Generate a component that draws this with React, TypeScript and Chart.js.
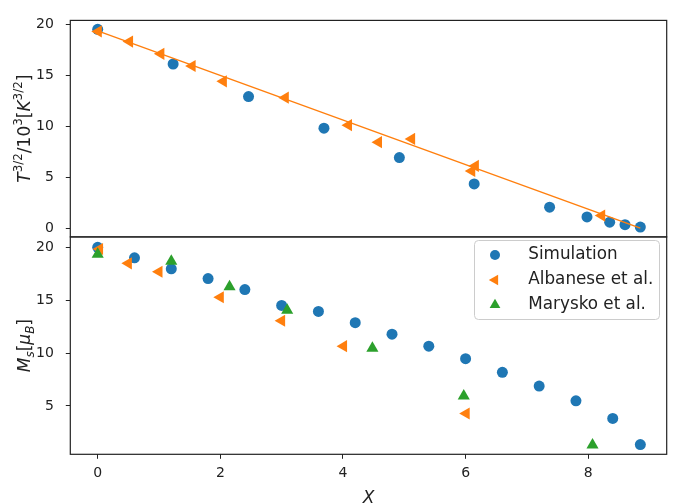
import React, { useEffect, useRef } from 'react';
import { Chart, registerables } from 'chart.js';

Chart.register(...registerables);

// ---------- data ----------
const X_TICKS = [0, 2, 4, 6, 8];
const TOP_Y_TICKS = [0, 5, 10, 15, 20];
const BOT_Y_TICKS = [5, 10, 15, 20];

const X_MIN = -0.447;
const X_MAX = 9.28;
const TOP_Y_MIN = -0.87;
const TOP_Y_MAX = 20.38;
const BOT_Y_MIN = 0.43;
const BOT_Y_MAX = 20.98;

// top panel
const TOP_SIM_X = [0, 1.23, 2.46, 3.69, 4.92, 6.14, 7.37, 7.98, 8.35, 8.6, 8.85];
const TOP_SIM_Y = [19.5, 16.1, 12.9, 9.8, 6.92, 4.33, 2.05, 1.09, 0.58, 0.33, 0.1];
const TOP_ALB_X = [0.01, 0.52, 1.03, 1.54, 2.05, 3.06, 4.09, 4.58, 5.12, 6.1, 6.16, 8.22];
const TOP_ALB_Y = [19.3, 18.3, 17.1, 15.9, 14.4, 12.8, 10.1, 8.43, 8.75, 5.6, 6.1, 1.22];
const FIT_X = [0, 8.85];
const FIT_Y = [19.35, 0];

// bottom panel
const BOT_SIM_X = [0, 0.6, 1.2, 1.8, 2.4, 3.0, 3.6, 4.2, 4.8, 5.4, 6.0, 6.6, 7.2, 7.8, 8.4, 8.85];
const BOT_SIM_Y = [20.0, 19.0, 17.96, 17.04, 16.0, 14.5, 13.94, 12.87, 11.79, 10.65, 9.47, 8.18, 6.88, 5.49, 3.82, 1.35];
const BOT_ALB_X = [0.03, 0.5, 1.0, 2.0, 3.0, 4.01, 6.01];
const BOT_ALB_Y = [19.84, 18.48, 17.69, 15.28, 13.06, 10.65, 4.29];
const BOT_MAR_X = [0, 1.2, 2.15, 3.09, 4.48, 5.97, 8.07];
const BOT_MAR_Y = [19.35, 18.67, 16.26, 14.04, 10.46, 5.93, 1.3];

const LEGEND_LABELS = ['Simulation', 'Albanese et al.', 'Marysko et al.'];
const X_TITLE = 'X';

// ---------- styles ----------
const FONT = '"DejaVu Sans", sans-serif';
const BLUE = '#1f77b4';
const ORANGE = '#ff7f0e';
const GREEN = '#2ca02c';
const INK = '#222222';
const W = 685;
const H = 504;
const CIRCLE_R = 5.5;
const TRI_R = 7;

type Seg = { t: string; it?: boolean; s?: number; dy?: number };

const pts = (xs: number[], ys: number[]) => xs.map((x, i) => ({ x, y: ys[i] }));

function drawRich(ctx: CanvasRenderingContext2D, segs: Seg[], x: number, y: number, size: number, rotate: boolean) {
  ctx.save();
  ctx.translate(x, y);
  if (rotate) ctx.rotate(-Math.PI / 2);
  const fontOf = (s: Seg) => `${s.it ? 'italic ' : ''}${(s.s ?? 1) * size}px ${FONT}`;
  let total = 0;
  const ws = segs.map((s) => {
    ctx.font = fontOf(s);
    const w = ctx.measureText(s.t).width;
    total += w;
    return w;
  });
  let cx = -total / 2;
  ctx.fillStyle = INK;
  ctx.textBaseline = 'alphabetic';
  ctx.textAlign = 'left';
  segs.forEach((s, i) => {
    ctx.font = fontOf(s);
    ctx.fillText(s.t, cx, (s.dy ?? 0) * size);
    cx += ws[i];
  });
  ctx.restore();
}

function marker(ctx: CanvasRenderingContext2D, kind: string, x: number, y: number, r: number, color: string) {
  ctx.save();
  ctx.fillStyle = color;
  ctx.beginPath();
  if (kind === 'circle') {
    ctx.arc(x, y, r, 0, Math.PI * 2);
  } else {
    const rot = kind === 'left' ? -Math.PI / 2 : 0;
    for (let k = 0; k < 3; k++) {
      const a = rot + (k * 2 * Math.PI) / 3;
      const px = x + Math.sin(a) * r;
      const py = y - Math.cos(a) * r;
      if (k === 0) ctx.moveTo(px, py);
      else ctx.lineTo(px, py);
    }
    ctx.closePath();
  }
  ctx.fill();
  ctx.restore();
}

const decorPlugin = {
  id: 'decor',
  afterDraw(chart: any) {
    const ctx: CanvasRenderingContext2D = chart.ctx;
    const a = chart.chartArea;
    const yt = chart.scales.yTop;
    const yb = chart.scales.yBot;
    // spines
    ctx.save();
    ctx.strokeStyle = INK;
    ctx.lineWidth = 1.2;
    ctx.strokeRect(a.left, yt.top, a.right - a.left, yt.bottom - yt.top);
    ctx.strokeRect(a.left, yb.top, a.right - a.left, yb.bottom - yb.top);
    ctx.restore();

    // y titles
    drawRich(
      ctx,
      [
        { t: 'T', it: true },
        { t: '3/2', s: 0.7, dy: -0.45 },
        { t: '/10' },
        { t: '3', s: 0.7, dy: -0.45 },
        { t: '[' },
        { t: 'K', it: true },
        { t: '3/2', s: 0.7, dy: -0.45 },
        { t: ']' },
      ],
      30,
      (yt.top + yt.bottom) / 2,
      17,
      true
    );
    drawRich(
      ctx,
      [
        { t: 'M', it: true },
        { t: 's', it: true, s: 0.7, dy: 0.22 },
        { t: '[' },
        { t: 'μ', it: true },
        { t: 'B', it: true, s: 0.7, dy: 0.22 },
        { t: ']' },
      ],
      30,
      (yb.top + yb.bottom) / 2,
      17,
      true
    );
    // x title
    drawRich(ctx, [{ t: X_TITLE, it: true }], (a.left + a.right) / 2, 502.5, 17, false);

    // legend
    ctx.save();
    const lx = 474.5, ly = 240.5, lw = 185, lh = 79;
    ctx.beginPath();
    (ctx as any).roundRect(lx, ly, lw, lh, 4);
    ctx.fillStyle = 'rgba(255,255,255,0.8)';
    ctx.fill();
    ctx.strokeStyle = '#cccccc';
    ctx.lineWidth = 1;
    ctx.stroke();
    const kinds = ['circle', 'left', 'up'];
    const colors = [BLUE, ORANGE, GREEN];
    LEGEND_LABELS.forEach((lab, i) => {
      const cy = 255 + i * 25;
      marker(ctx, kinds[i], 495, cy, kinds[i] === 'circle' ? 5 : 6.2, colors[i]);
      ctx.fillStyle = INK;
      ctx.font = `16.8px ${FONT}`;
      ctx.textBaseline = 'middle';
      ctx.textAlign = 'left';
      ctx.fillText(lab, 528.3, cy);
    });
    ctx.restore();
  },
};

const tickFont = { family: FONT, size: 14 };

function yScale(min: number, max: number, ticks: number[], weight: number) {
  return {
    type: 'linear',
    position: 'left',
    stack: 'panels',
    stackWeight: weight,
    min,
    max,
    afterBuildTicks: (s: any) => {
      s.ticks = ticks.map((v) => ({ value: v }));
    },
    afterFit: (s: any) => {
      s.width = 70.3;
    },
    grid: { display: true, drawOnChartArea: false, drawTicks: true, tickLength: 4.5, color: INK, lineWidth: 1 },
    border: { display: false },
    ticks: { font: tickFont, color: INK, padding: 12, autoSkip: false },
  };
}

const circleSet = (label: string, xs: number[], ys: number[], axis: string) => ({
  label,
  data: pts(xs, ys),
  yAxisID: axis,
  backgroundColor: BLUE,
  borderColor: BLUE,
  pointRadius: CIRCLE_R,
  pointBorderWidth: 0,
  order: 3,
});

const triSet = (label: string, xs: number[], ys: number[], axis: string, color: string, rot: number, order: number) => ({
  label,
  data: pts(xs, ys),
  yAxisID: axis,
  backgroundColor: color,
  borderColor: color,
  pointStyle: 'triangle',
  pointRotation: rot,
  pointRadius: TRI_R,
  pointBorderWidth: 0,
  order,
});

export default function App() {
  const ref = useRef<HTMLCanvasElement | null>(null);
  useEffect(() => {
    if (!ref.current) return;
    const chart = new Chart(ref.current, {
      type: 'scatter',
      data: {
        datasets: [
          {
            type: 'line',
            label: 'fit',
            data: pts(FIT_X, FIT_Y),
            yAxisID: 'yTop',
            borderColor: ORANGE,
            borderWidth: 1.4,
            pointRadius: 0,
            showLine: true,
            fill: false,
            order: 0,
          } as any,
          circleSet('Simulation', TOP_SIM_X, TOP_SIM_Y, 'yTop'),
          triSet('Albanese et al.', TOP_ALB_X, TOP_ALB_Y, 'yTop', ORANGE, -90, 2),
          circleSet('Simulation', BOT_SIM_X, BOT_SIM_Y, 'yBot'),
          triSet('Albanese et al.', BOT_ALB_X, BOT_ALB_Y, 'yBot', ORANGE, -90, 2),
          triSet('Marysko et al.', BOT_MAR_X, BOT_MAR_Y, 'yBot', GREEN, 0, 1),
        ],
      },
      options: {
        animation: false,
        responsive: false,
        maintainAspectRatio: false,
        layout: { padding: { left: 0, right: 18.3, top: 10, bottom: 0 } },
        plugins: { legend: { display: false }, tooltip: { enabled: false } },
        scales: {
          x: {
            type: 'linear',
            position: 'bottom',
            min: X_MIN,
            max: X_MAX,
            afterBuildTicks: (s: any) => {
              s.ticks = X_TICKS.map((v) => ({ value: v }));
            },
            afterFit: (s: any) => {
              s.height = 49.7;
            },
            grid: { display: true, drawOnChartArea: false, drawTicks: true, tickLength: 4.5, color: INK, lineWidth: 1 },
            border: { display: false },
            ticks: { font: tickFont, color: INK, padding: 6, autoSkip: false, maxRotation: 0 },
          },
          yBot: yScale(BOT_Y_MIN, BOT_Y_MAX, BOT_Y_TICKS, 222.6),
          yTop: yScale(TOP_Y_MIN, TOP_Y_MAX, TOP_Y_TICKS, 221.7),
        } as any,
      },
      plugins: [decorPlugin],
    } as any);
    return () => chart.destroy();
  }, []);
  return (
    <div style={{ position: 'fixed', left: 0, top: 0, width: W, height: H, background: '#fff' }}>
      <canvas ref={ref} width={W} height={H} style={{ width: W, height: H, display: 'block' }} />
    </div>
  );
}
